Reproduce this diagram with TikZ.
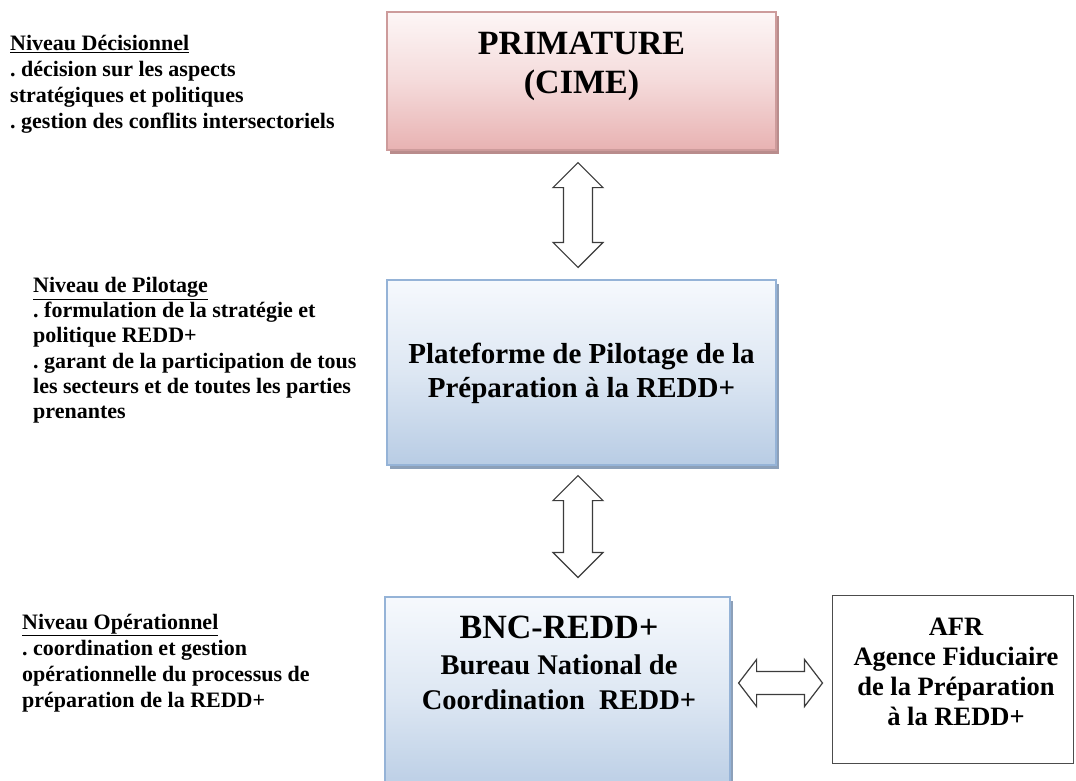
\documentclass[tikz,border=0pt]{standalone}
\usepackage{fontspec}
\setmainfont{Liberation Serif}
\usetikzlibrary{calc,shadows}
\frenchspacing
\definecolor{pinkbot}{RGB}{232,178,178}
\definecolor{pinktop}{RGB}{253,246,246}
\definecolor{pinkedge}{RGB}{205,155,155}
\definecolor{pinkshadow}{RGB}{185,140,140}
\definecolor{bluebot}{RGB}{184,204,228}
\definecolor{bluetop}{RGB}{246,249,253}
\definecolor{blueedge}{RGB}{149,179,215}
\definecolor{blueshadow}{RGB}{140,160,185}
\definecolor{arrowgray}{RGB}{60,60,60}
\tikzset{
  pinkbox/.style={rectangle, draw=pinkedge, line width=1.2pt, top color=pinktop, bottom color=pinkbot, middle color=pinktop!60!pinkbot,
    drop shadow={shadow xshift=3pt, shadow yshift=-4pt, fill=pinkshadow, opacity=1}},
  bluebox/.style={rectangle, draw=blueedge, line width=1.2pt, top color=bluetop, bottom color=bluebot, middle color=bluetop!60!bluebot,
    drop shadow={shadow xshift=3pt, shadow yshift=-4pt, fill=blueshadow, opacity=1}},
  plainbox/.style={rectangle, draw=black!70, line width=1pt, fill=white},
  sidetext/.style={anchor=north west, inner sep=0pt, align=left, font=\fontsize{22}{25.2}\selectfont\bfseries},
  widetext/.style={sidetext, font=\fontsize{22}{25.9}\selectfont\bfseries},
  boxtext/.style={inner sep=0pt, align=center},
  hollow/.style={draw=arrowgray, line width=1.2pt, fill=white, line join=miter},
}
\begin{document}
\begin{tikzpicture}[x=1pt,y=-1pt]
\useasboundingbox (0,0) rectangle (1076,780);
\fill[white] (0,0) rectangle (1076,780);

% boxes
\node[pinkbox, minimum width=389, minimum height=138] (prim) at (581.5,81) {};
\node[bluebox, minimum width=389, minimum height=185] (plat) at (581.5,372.5) {};
\node[bluebox, minimum width=345, minimum height=200] (bnc) at (557.5,697) {};
\node[plainbox, minimum width=241, minimum height=168] (afr) at (952.5,679) {};

% box texts
\node[boxtext, font=\fontsize{34}{39}\selectfont\bfseries] (primtxt) at (581.5,66) {PRIMATURE\\(CIME)};
\node[boxtext, font=\fontsize{29}{34}\selectfont\bfseries] (plattxt) at (581.5,373) {Plateforme de Pilotage de la\\Préparation à la REDD+};
\node[boxtext, font=\fontsize{28.5}{35.5}\selectfont\bfseries] (bnctxt) at (559,663) {{\fontsize{34}{36}\selectfont BNC-REDD+}\\Bureau National de\\Coordination\ \ REDD+};
\node[boxtext, font=\fontsize{26.5}{30}\selectfont\bfseries] (afrtxt) at (956,672) {AFR\\Agence Fiduciaire\\de la Préparation\\à la REDD+};

% side texts
\node[widetext] (t1) at (10,35) {\underline{Niveau Décisionnel}\\. décision sur les aspects\\stratégiques et politiques\\. gestion des conflits intersectoriels};
\node[sidetext] (t2) at (33,277) {\underline{Niveau de Pilotage}\\. formulation de la stratégie et\\politique REDD+\\. garant de la participation de tous\\les secteurs et de toutes les parties\\prenantes};
\node[widetext] (t3) at (22,614) {\underline{Niveau Opérationnel}\\. coordination et gestion\\opérationnelle du processus de\\préparation de la REDD+};

% arrow end points
\coordinate (a1t) at ($(prim.south)+(-3.5,12)$);
\coordinate (a1b) at ($(plat.north)+(-3.5,-12)$);
\coordinate (a2t) at ($(plat.south)+(-3.5,10)$);
\coordinate (a2b) at ($(bnc.north)+(20.5,-19)$);
\coordinate (a3l) at ($(bnc.east |- afr.west)+(8,4)$);
\coordinate (a3r) at ($(afr.west)+(-9,4)$);

% vertical double arrows
\foreach \ua/\ub in {a1t/a1b, a2t/a2b}{
  \draw[hollow] let \p1=(\ua), \p2=(\ub) in
    (\x1,\y1) -- (\x1+25pt,\y1-25pt) -- (\x1+14.5pt,\y1-25pt) -- (\x1+14.5pt,\y2+25pt)
    -- (\x1+25pt,\y2+25pt) -- (\x1,\y2) -- (\x1-25pt,\y2+25pt) -- (\x1-14.5pt,\y2+25pt)
    -- (\x1-14.5pt,\y1-25pt) -- (\x1-25pt,\y1-25pt) -- cycle;
}
% horizontal double arrow
\draw[hollow] let \p1=(a3l), \p2=(a3r) in
  (\x1,\y1) -- (\x1+18pt,\y1+23.5pt) -- (\x1+18pt,\y1+11.5pt) -- (\x2-18pt,\y1+11.5pt)
  -- (\x2-18pt,\y1+23.5pt) -- (\x2,\y1) -- (\x2-18pt,\y1-23.5pt) -- (\x2-18pt,\y1-11.5pt)
  -- (\x1+18pt,\y1-11.5pt) -- (\x1+18pt,\y1-23.5pt) -- cycle;
\end{tikzpicture}
\end{document}
